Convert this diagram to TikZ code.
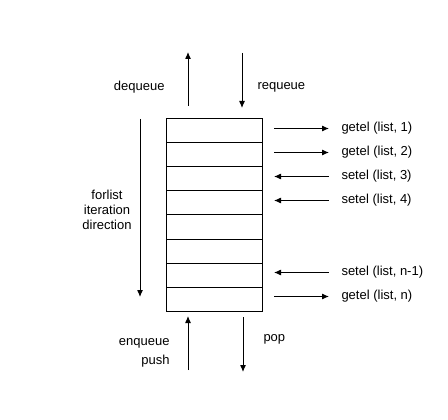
\documentclass[tikz,border=0pt]{standalone}
\usepackage{fontspec}
\setmainfont{Liberation Sans}
\usepackage{tikz}
\usetikzlibrary{arrows.meta}
\usetikzlibrary{positioning}
\tikzstyle{cell}=[draw,rectangle,minimum width=96pt,minimum height=24pt,inner sep=0pt,outer sep=0pt]
\tikzstyle{lbl}=[inner sep=0pt,font=\fontsize{13}{15}\selectfont]

\begin{document}
\begin{tikzpicture}[x=1pt,y=-1pt,line width=1pt,>={Latex[length=7pt,width=6pt]}]
\useasboundingbox (0,0) rectangle (448,420);
% the list cells
\node [cell] (c1) at (214,131) {};
\foreach \i [count=\j from 1] in {2,...,8}
  \node [cell,below=0pt of c\j] (c\i) {};

% getel / setel
\foreach \i/\dir/\t in {1/->/{getel (list, 1)},2/->/{getel (list, 2)},3/<-/{setel (list, 3)},4/<-/{setel (list, 4)},7/<-/{setel (list, n-1)},8/->/{getel (list, n)}}
{
  \node [lbl,anchor=west] (op\i) at ([xshift=79pt,yshift=2.5pt]c\i.east) {\t};
  \coordinate (a\i) at ([xshift=12pt,yshift=2.5pt]c\i.east);
  \draw [\dir] (a\i) -- ([xshift=-12pt]op\i.west);
}

% top
\coordinate (dqA) at (188,106);
\coordinate (dqB) at (188,52);
\coordinate (rqA) at (242,53);
\coordinate (rqB) at (242,108);
\node [lbl,anchor=east] (dequeue) at (165,87) {dequeue};
\node [lbl,anchor=west] (requeue) at (257,87) {requeue};
\draw [->] (dqA) -- (dqB);
\draw [->] (rqA) -- (rqB);

% iteration direction
\coordinate (itA) at (140,119);
\coordinate (itB) at (140,297);
\draw [->] (itA) -- (itB);
\node [lbl,align=center] (forlist) at (107,210) {forlist\\iteration\\direction};

% bottom
\coordinate (enA) at (188,370);
\coordinate (enB) at (188,316);
\coordinate (ppA) at (243,317);
\coordinate (ppB) at (243,372);
\draw [->] (enA) -- (enB);
\draw [->] (ppA) -- (ppB);
\node [lbl,align=right,anchor=east] (enqueue) at (170,353) {enqueue\\[4pt]push};
\node [lbl,anchor=west] (pop) at (263,339) {pop};
\end{tikzpicture}
\end{document}
